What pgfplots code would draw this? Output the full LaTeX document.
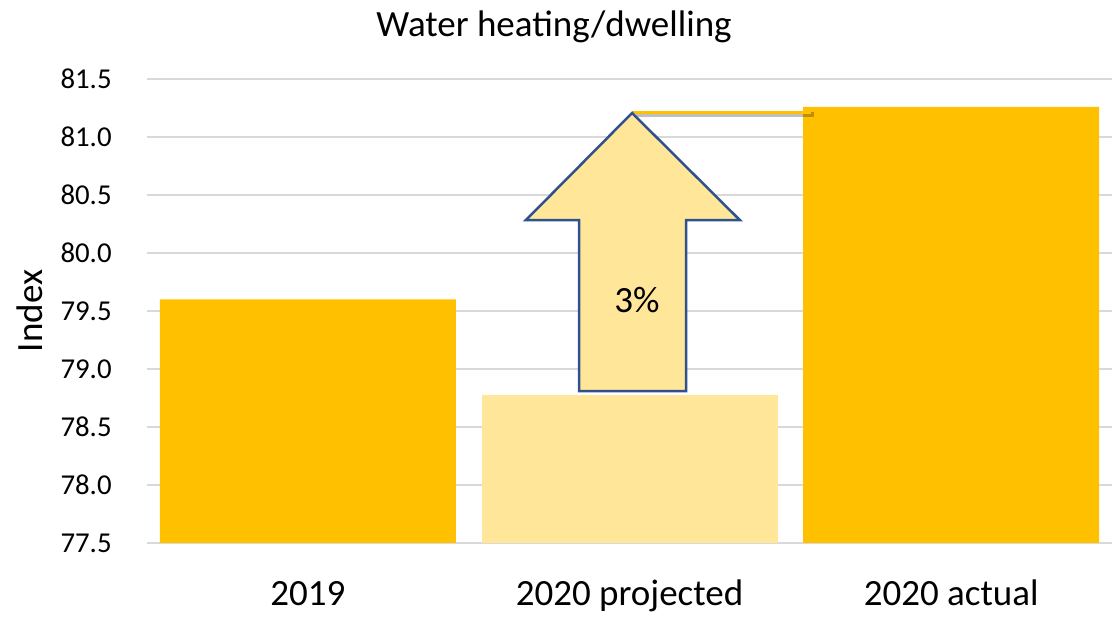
\documentclass[border=0pt]{standalone}
\usepackage{fontspec}
\setmainfont{Carlito}
\usepackage{pgfplots}
\pgfplotsset{compat=1.18}
\definecolor{gold}{HTML}{FFC000}
\definecolor{lightgold}{HTML}{FFE699}
\definecolor{arrowblue}{HTML}{2F528F}
\definecolor{gridgray}{HTML}{D9D9D9}
\begin{document}
\begin{tikzpicture}
\useasboundingbox (0,0) rectangle (557bp,310bp);
\begin{axis}[
  at={(73.5bp,38.5bp)}, anchor=south west,
  scale only axis, width=482.5bp, height=232bp,
  xmin=-0.5, xmax=2.5, ymin=77.5, ymax=81.5,
  xtick={0,1,2}, xticklabels={2019,2020 projected,2020 actual},
  ytick={77.5,78,78.5,79,79.5,80,80.5,81,81.5},
  /pgf/number format/fixed, /pgf/number format/fixed zerofill,
  /pgf/number format/precision=1, /pgf/number format/assume math mode=true,
  y tick label style={font=\fontsize{14.4bp}{17bp}\selectfont, inner sep=0pt, anchor=east, xshift=-17.5bp},
  x tick label style={font=\fontsize{18.5bp}{22bp}\selectfont, inner sep=0pt, anchor=base, yshift=-31bp},
  major tick length=0pt,
  axis line style={draw=none},
  ymajorgrids, major grid style={gridgray, line width=1bp},
  ybar, bar width=148bp,
  clip=true,
]
\addplot[ybar, bar shift=0pt, fill=gold, draw=none] coordinates {(0,79.6) (2,81.26)};
\addplot[ybar, bar shift=0pt, fill=lightgold, draw=none] coordinates {(1,78.78)};
% shadow of connector
\addplot[sharp plot, draw=black, opacity=0.25, line width=2.5bp] coordinates {(1.02,81.19) (1.575,81.19)};
\addplot[sharp plot, draw=gold, line width=1.5bp] coordinates {(1.008,81.207) (1.565,81.207)};
\addplot[sharp plot, fill=lightgold, draw=arrowblue, line width=1.25bp, line join=miter] coordinates {
 (0.843,78.81) (1.176,78.81) (1.176,80.284) (1.343,80.284) (1.008,81.207) (0.678,80.284) (0.843,80.284)} -- cycle;
\node[font=\fontsize{18.5bp}{22bp}\selectfont] at (axis cs:1.023,79.595) {3\%};
\end{axis}
\node[font=\fontsize{18.5bp}{22bp}\selectfont, anchor=base] at (277bp,291.5bp) {Water heating/dwelling};
\node[font=\fontsize{18.5bp}{22bp}\selectfont, rotate=90] at (15bp,154.5bp) {Index};
\end{tikzpicture}
\end{document}
